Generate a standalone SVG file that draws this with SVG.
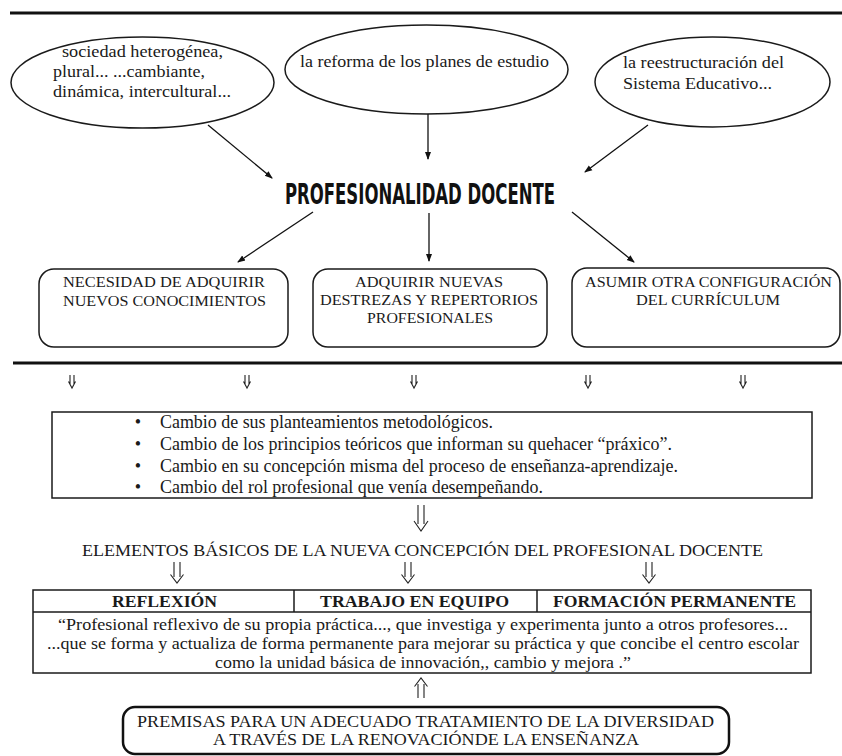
<svg xmlns="http://www.w3.org/2000/svg" width="842" height="756" viewBox="0 0 842 756">
<defs>
<marker id="ah" markerWidth="8" markerHeight="8" refX="7" refY="4" orient="auto" markerUnits="userSpaceOnUse">
<path d="M0,1 L8,4 L0,7 Z" fill="#111"/>
</marker>
<style>
.t{font-family:"Liberation Serif","Times New Roman",serif;fill:#1a1a1a}
.e{font-size:16px}
.bx{font-size:15px}
.bl{font-size:18px}
.tb{font-size:16.5px}
.b{font-weight:bold}
.shape{fill:none;stroke:#1a1a1a;stroke-width:1.5}
.rule{stroke:#111;stroke-width:3}
.conn{stroke:#111;stroke-width:1.3;fill:none;marker-end:url(#ah)}
.dbl{stroke:#222;stroke-width:1.1;fill:none;stroke-linejoin:miter}
</style>
</defs>
<rect width="842" height="756" fill="#fff"/>
<g id="rules">
<line class="rule" x1="10" y1="13" x2="842" y2="13"/>
<line class="rule" x1="13" y1="363" x2="842" y2="363"/>
</g>
<g id="ellipse-sociedad">
<ellipse class="shape" cx="142.5" cy="82.5" rx="131.5" ry="45.5"/>
<text class="t e" x="62" y="57" textLength="161" lengthAdjust="spacingAndGlyphs">sociedad heterogénea,</text>
<text class="t e" x="53" y="77" textLength="152" lengthAdjust="spacingAndGlyphs">plural... ...cambiante,</text>
<text class="t e" x="53" y="97" textLength="178" lengthAdjust="spacingAndGlyphs">dinámica, intercultural...</text>
</g>
<g id="ellipse-reforma">
<ellipse class="shape" cx="426.5" cy="69.5" rx="141.5" ry="44.5"/>
<text class="t e" x="300" y="67" textLength="249" lengthAdjust="spacingAndGlyphs">la reforma de los planes de estudio</text>
</g>
<g id="ellipse-sistema">
<ellipse class="shape" cx="712.5" cy="82" rx="117.5" ry="45"/>
<text class="t e" x="623" y="68" textLength="161" lengthAdjust="spacingAndGlyphs">la reestructuración del</text>
<text class="t e" x="623" y="89" textLength="149" lengthAdjust="spacingAndGlyphs">Sistema Educativo...</text>
</g>
<g id="profesionalidad">
<text x="285" y="204" textLength="270" lengthAdjust="spacingAndGlyphs" style="font-family:'DejaVu Sans Condensed','DejaVu Sans',sans-serif;font-stretch:condensed;font-weight:bold;font-size:28px;fill:#111">PROFESIONALIDAD DOCENTE</text>
</g>
<g id="box-necesidad">
<rect class="shape" x="39" y="269" width="249" height="78" rx="15"/>
<text class="t bx" x="63" y="287" textLength="202" lengthAdjust="spacingAndGlyphs">NECESIDAD DE ADQUIRIR</text>
<text class="t bx" x="63" y="306" textLength="203" lengthAdjust="spacingAndGlyphs">NUEVOS CONOCIMIENTOS</text>
</g>
<g id="box-adquirir">
<rect class="shape" x="313" y="269" width="234" height="78" rx="15"/>
<text class="t bx" x="355" y="287" textLength="148" lengthAdjust="spacingAndGlyphs">ADQUIRIR NUEVAS</text>
<text class="t bx" x="320" y="305" textLength="218" lengthAdjust="spacingAndGlyphs">DESTREZAS Y REPERTORIOS</text>
<text class="t bx" x="367" y="323" textLength="126" lengthAdjust="spacingAndGlyphs">PROFESIONALES</text>
</g>
<g id="box-asumir">
<rect class="shape" x="572" y="268" width="268" height="79" rx="15"/>
<text class="t bx" x="585" y="287" textLength="247" lengthAdjust="spacingAndGlyphs">ASUMIR OTRA CONFIGURACIÓN</text>
<text class="t bx" x="636" y="305" textLength="144" lengthAdjust="spacingAndGlyphs">DEL CURRÍCULUM</text>
</g>
<g id="connectors">
<line class="conn" x1="208" y1="125" x2="272" y2="178"/>
<line class="conn" x1="428" y1="114" x2="428" y2="159"/>
<line class="conn" x1="648" y1="125" x2="585" y2="172"/>
<line class="conn" x1="313" y1="212" x2="238" y2="262"/>
<line class="conn" x1="429" y1="213" x2="429" y2="261"/>
<line class="conn" x1="572" y1="212" x2="634" y2="262"/>
<path class="dbl" d="M70,375V384M74,375V384M68.5,381.5L72,388L75.5,381.5"/>
<path class="dbl" d="M245,375V384M249,375V384M243.5,381.5L247,388L250.5,381.5"/>
<path class="dbl" d="M412,375V384M416,375V384M410.5,381.5L414,388L417.5,381.5"/>
<path class="dbl" d="M586,375V384M590,375V384M584.5,381.5L588,388L591.5,381.5"/>
<path class="dbl" d="M741,375V384M745,375V384M739.5,381.5L743,388L746.5,381.5"/>
<path class="dbl" d="M418,505V524M424,505V524M414,521L421,531L428,521"/>
<path class="dbl" d="M174,562V577M180,562V577M170.5,574.5L177,583L183.5,574.5"/>
<path class="dbl" d="M405,562V577M411,562V577M401.5,574.5L408,583L414.5,574.5"/>
<path class="dbl" d="M646,562V577M652,562V577M642.5,574.5L649,583L655.5,574.5"/>
<path class="dbl" d="M418,698V684M424,698V684M414.5,686.5L421,678L427.5,686.5"/>
</g>
<g id="box-cambios">
<rect class="shape" x="52" y="412" width="760" height="86"/>
<text class="t bl" x="138" y="428" text-anchor="middle">•</text>
<text class="t bl" x="160" y="428" textLength="333" lengthAdjust="spacingAndGlyphs">Cambio de sus planteamientos metodológicos.</text>
<text class="t bl" x="138" y="450" text-anchor="middle">•</text>
<text class="t bl" x="160" y="450" textLength="512" lengthAdjust="spacingAndGlyphs">Cambio de los principios teóricos que informan su quehacer “práxico”.</text>
<text class="t bl" x="138" y="472" text-anchor="middle">•</text>
<text class="t bl" x="160" y="472" textLength="518" lengthAdjust="spacingAndGlyphs">Cambio en su concepción misma del proceso de enseñanza-aprendizaje.</text>
<text class="t bl" x="138" y="493" text-anchor="middle">•</text>
<text class="t bl" x="160" y="493" textLength="383" lengthAdjust="spacingAndGlyphs">Cambio del rol profesional que venía desempeñando.</text>
</g>
<g id="elementos">
<text class="t" style="font-size:17.5px" x="82" y="556" textLength="681" lengthAdjust="spacingAndGlyphs">ELEMENTOS BÁSICOS DE LA NUEVA CONCEPCIÓN DEL PROFESIONAL DOCENTE</text>
</g>
<g id="table-elementos">
<rect class="shape" x="33" y="590" width="778" height="83"/>
<line class="shape" x1="33" y1="612" x2="811" y2="612"/>
<line class="shape" x1="294" y1="590" x2="294" y2="612"/>
<line class="shape" x1="537" y1="590" x2="537" y2="612"/>
<text class="t b" style="font-size:17px" x="112" y="607" textLength="105" lengthAdjust="spacingAndGlyphs">REFLEXIÓN</text>
<text class="t b" style="font-size:17px" x="320" y="607" textLength="189" lengthAdjust="spacingAndGlyphs">TRABAJO EN EQUIPO</text>
<text class="t b" style="font-size:17px" x="553" y="607" textLength="243" lengthAdjust="spacingAndGlyphs">FORMACIÓN PERMANENTE</text>
<text class="t tb" x="58" y="630" textLength="730" lengthAdjust="spacingAndGlyphs">“Profesional reflexivo de su propia práctica..., que investiga y experimenta junto a otros profesores...</text>
<text class="t tb" x="47" y="649" textLength="752" lengthAdjust="spacingAndGlyphs">...que se forma y actualiza de forma permanente para mejorar su práctica y que concibe el centro escolar</text>
<text class="t tb" x="215" y="668" textLength="416" lengthAdjust="spacingAndGlyphs">como la unidad básica de innovación,, cambio y mejora .”</text>
</g>
<g id="box-premisas">
<rect x="123" y="707" width="606" height="47" rx="12" fill="none" stroke="#111" stroke-width="2.5"/>
<text class="t" style="font-size:16.5px" x="137" y="727" textLength="577" lengthAdjust="spacingAndGlyphs">PREMISAS PARA UN ADECUADO TRATAMIENTO DE LA DIVERSIDAD</text>
<text class="t" style="font-size:16.5px" x="213" y="745" textLength="426" lengthAdjust="spacingAndGlyphs">A TRAVÉS DE LA RENOVACIÓNDE LA ENSEÑANZA</text>
</g>
</svg>
